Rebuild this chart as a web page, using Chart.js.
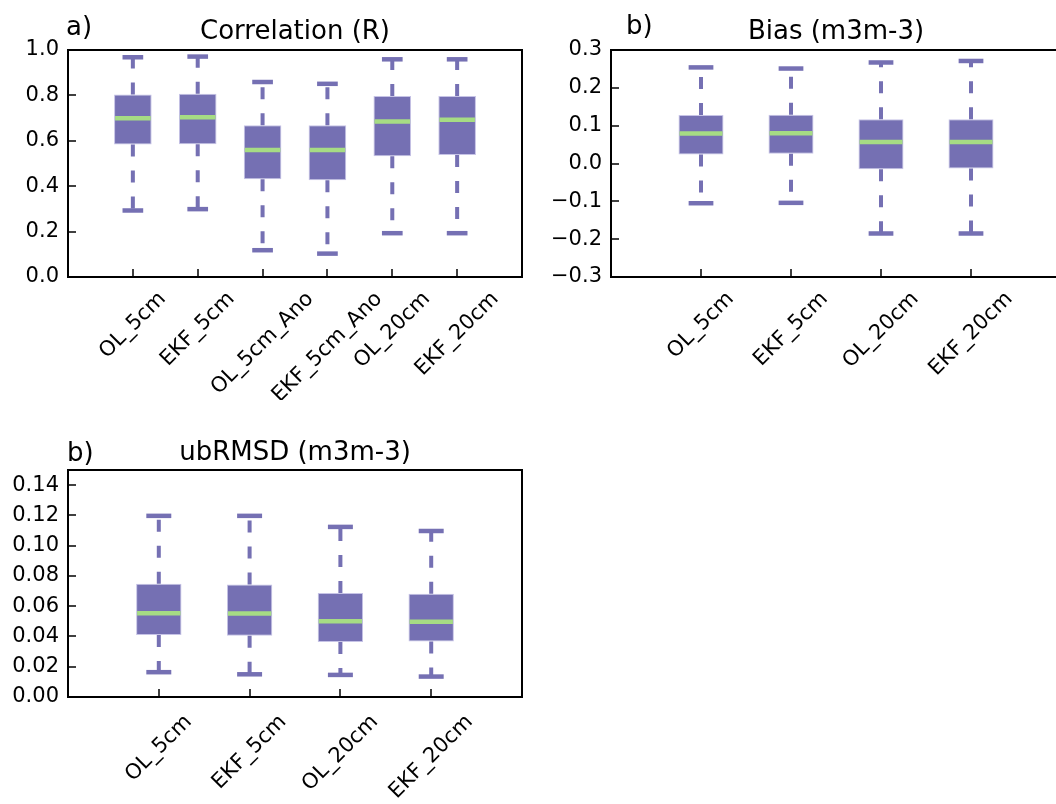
<!DOCTYPE html>
<html>
<head>
<meta charset="utf-8">
<script src="https://cdn.jsdelivr.net/npm/chart.js@4.4.1/dist/chart.umd.min.js"></script>
<style>
  html, body { margin: 0; padding: 0; background: #fff; }
  body { position: relative; width: 1056px; height: 804px; overflow: hidden; }
  canvas { position: absolute; }
</style>
</head>
<body>
<canvas id="chartA" width="540" height="400" style="left:0;top:0"></canvas>
<canvas id="chartB" width="540" height="400" style="left:540px;top:0"></canvas>
<canvas id="chartC" width="540" height="404" style="left:0;top:400px"></canvas>
<script>
// values (whisker ends, quartiles, medians)
const labelsA = ['OL_5cm', 'EKF_5cm', 'OL_5cm_Ano', 'EKF_5cm_Ano', 'OL_20cm', 'EKF_20cm'];
const lowA = [0.293, 0.299, 0.118, 0.103, 0.193, 0.193];
const q1A  = [0.584, 0.585, 0.431, 0.426, 0.532, 0.537];
const medA = [0.699, 0.704, 0.560, 0.560, 0.685, 0.693];
const q3A  = [0.804, 0.807, 0.668, 0.669, 0.797, 0.797];
const highA = [0.968, 0.971, 0.859, 0.851, 0.959, 0.959];
const ticksA = [0, 0.2, 0.4, 0.6, 0.8, 1.0];

const labelsB = ['OL_5cm', 'EKF_5cm', 'OL_20cm', 'EKF_20cm'];
const lowB = [-0.105, -0.104, -0.185, -0.185];
const q1B  = [0.024, 0.026, -0.015, -0.013];
const medB = [0.079, 0.080, 0.057, 0.057];
const q3B  = [0.128, 0.129, 0.117, 0.117];
const highB = [0.254, 0.251, 0.267, 0.271];
const ticksB = [-0.3, -0.2, -0.1, 0, 0.1, 0.2, 0.3];

const labelsC = ['OL_5cm', 'EKF_5cm', 'OL_20cm', 'EKF_20cm'];
const lowC = [0.0164, 0.0150, 0.0146, 0.0135];
const q1C  = [0.0409, 0.0405, 0.0363, 0.0367];
const medC = [0.0553, 0.0551, 0.0500, 0.0498];
const q3C  = [0.0748, 0.0743, 0.0688, 0.0683];
const highC = [0.1197, 0.1197, 0.1124, 0.1097];
const ticksC = [0, 0.02, 0.04, 0.06, 0.08, 0.10, 0.12, 0.14];

const BOX = '#7570b3';
const MED = '#a6dc84';
const FONT = 'DejaVu Sans';

function fmt(v, d) {
  if (Math.abs(v) < 1e-9) v = 0;
  return v.toFixed(d).replace('-', '\u2212');
}

function makePanel(id, p) {
  const canvas = document.getElementById(id);
  const W = canvas.width, H = canvas.height;
  const n = p.labels.length;
  const a = p.area; // left, top, right, bottom inside the canvas
  const boxes = p.labels.map((_, i) => ({ x: i + 1, y: [p.q1[i], p.q3[i]] }));

  const parts = {
    id: 'boxParts',
    afterDatasetsDraw(chart) {
      const ctx = chart.ctx;
      const xs = chart.scales.x, ys = chart.scales.y;
      const ca = chart.chartArea;
      const bars = chart.getDatasetMeta(0).data;
      ctx.save();
      for (let i = 0; i < n; i++) {
        const x = xs.getPixelForValue(i + 1);
        const bw = bars[i].width;
        const capW = bw * 0.55;
        ctx.strokeStyle = BOX;
        ctx.lineCap = 'butt';
        // dashed whiskers, from box edge outwards
        ctx.lineWidth = 4;
        ctx.setLineDash([12, 14]);
        [[p.q3[i], p.high[i]], [p.q1[i], p.low[i]]].forEach(([from, to]) => {
          ctx.beginPath();
          ctx.moveTo(x, ys.getPixelForValue(from));
          ctx.lineTo(x, ys.getPixelForValue(to));
          ctx.stroke();
        });
        ctx.setLineDash([]);
        // caps
        ctx.lineWidth = 4.5;
        [p.high[i], p.low[i]].forEach(v => {
          const y = ys.getPixelForValue(v);
          ctx.beginPath();
          ctx.moveTo(x - capW / 2, y);
          ctx.lineTo(x + capW / 2, y);
          ctx.stroke();
        });
        // median
        ctx.strokeStyle = MED;
        const ym = ys.getPixelForValue(p.med[i]);
        ctx.beginPath();
        ctx.moveTo(x - bw / 2 + 1, ym);
        ctx.lineTo(x + bw / 2 - 1, ym);
        ctx.stroke();
      }

      // axes frame
      ctx.strokeStyle = '#000';
      ctx.lineWidth = 2;
      ctx.strokeRect(ca.left, ca.top, ca.right - ca.left, ca.bottom - ca.top);

      // inward tick marks
      ctx.lineWidth = 1.5;
      p.yTicks.forEach(v => {
        const y = Math.round(ys.getPixelForValue(v));
        ctx.beginPath();
        ctx.moveTo(ca.left, y);
        ctx.lineTo(ca.left + 8, y);
        ctx.stroke();
      });
      xs.ticks.forEach(t => {
        const x = Math.round(xs.getPixelForValue(t.value));
        ctx.beginPath();
        ctx.moveTo(x, ca.bottom);
        ctx.lineTo(x, ca.bottom - 8);
        ctx.stroke();
      });

      // rotated category labels, centred under the tick like matplotlib
      ctx.fillStyle = '#000';
      ctx.font = '21px "' + FONT + '"';
      ctx.textAlign = 'center';
      ctx.textBaseline = 'middle';
      p.labels.forEach((lab, i) => {
        const x = xs.getPixelForValue(i + 1);
        const w = ctx.measureText(lab).width;
        const cy = ca.bottom + p.labelPad + (w + 1.17 * 21) / (2 * Math.SQRT2);
        ctx.save();
        ctx.translate(x, cy);
        ctx.rotate(-Math.PI / 4);
        ctx.fillText(lab, 0, 0);
        ctx.restore();
      });

      // title and panel letter
      ctx.font = '26px "' + FONT + '"';
      ctx.textBaseline = 'alphabetic';
      ctx.textAlign = 'center';
      ctx.fillText(p.title, (ca.left + ca.right) / 2, ca.top - p.titleGap);
      ctx.textAlign = 'left';
      ctx.fillText(p.letter, p.letterAt[0], p.letterAt[1]);
      ctx.restore();
    }
  };

  return new Chart(canvas, {
    type: 'bar',
    data: {
      datasets: [{
        data: boxes,
        backgroundColor: BOX,
        borderColor: '#c6c3e6',
        borderWidth: 1,
        borderSkipped: false,
        barPercentage: p.barPct,
        categoryPercentage: 1
      }]
    },
    options: {
      responsive: false,
      animation: false,
      devicePixelRatio: 1,
      layout: { padding: { left: 0, top: a[1], right: W - a[2], bottom: 0 } },
      plugins: {
        legend: { display: false },
        tooltip: { enabled: false },
        title: { display: false }
      },
      scales: {
        x: {
          type: 'linear',
          min: 0,
          max: n + 1,
          offset: false,
          ticks: { display: false },
          grid: { display: false, drawTicks: false },
          border: { display: false },
          afterBuildTicks(s) { s.ticks = p.labels.map((_, i) => ({ value: i + 1 })); },
          afterFit(s) { s.height = H - a[3]; }
        },
        y: {
          type: 'linear',
          min: p.yMin,
          max: p.yMax,
          ticks: {
            color: '#000',
            font: { family: FONT, size: 21 },
            padding: 9,
            callback: v => fmt(v, p.dec)
          },
          grid: { display: false, drawTicks: false },
          border: { display: false },
          afterBuildTicks(s) { s.ticks = p.yTicks.map(v => ({ value: v })); },
          afterFit(s) { s.width = a[0]; }
        }
      }
    },
    plugins: [parts]
  });
}

makePanel('chartA', {
  labels: labelsA, low: lowA, q1: q1A, med: medA, q3: q3A, high: highA,
  yTicks: ticksA, yMin: 0, yMax: 1, dec: 1,
  title: 'Correlation (R)', letter: 'a)',
  area: [68, 50, 522, 277], barPct: 0.58, labelPad: 10, titleGap: 11, letterAt: [66, 35]
});

makePanel('chartB', {
  labels: labelsB, low: lowB, q1: q1B, med: medB, q3: q3B, high: highB,
  yTicks: ticksB, yMin: -0.3, yMax: 0.3, dec: 1,
  title: 'Bias (m3m-3)', letter: 'b)',
  area: [71, 50, 521, 277], barPct: 0.5, labelPad: 10, titleGap: 11, letterAt: [86, 34]
});

makePanel('chartC', {
  labels: labelsC, low: lowC, q1: q1C, med: medC, q3: q3C, high: highC,
  yTicks: ticksC, yMin: 0, yMax: 0.15, dec: 2,
  title: 'ubRMSD (m3m-3)', letter: 'b)',
  area: [68, 70, 522, 297], barPct: 0.5, labelPad: 13, titleGap: 10, letterAt: [67, 61]
});
</script>
</body>
</html>
